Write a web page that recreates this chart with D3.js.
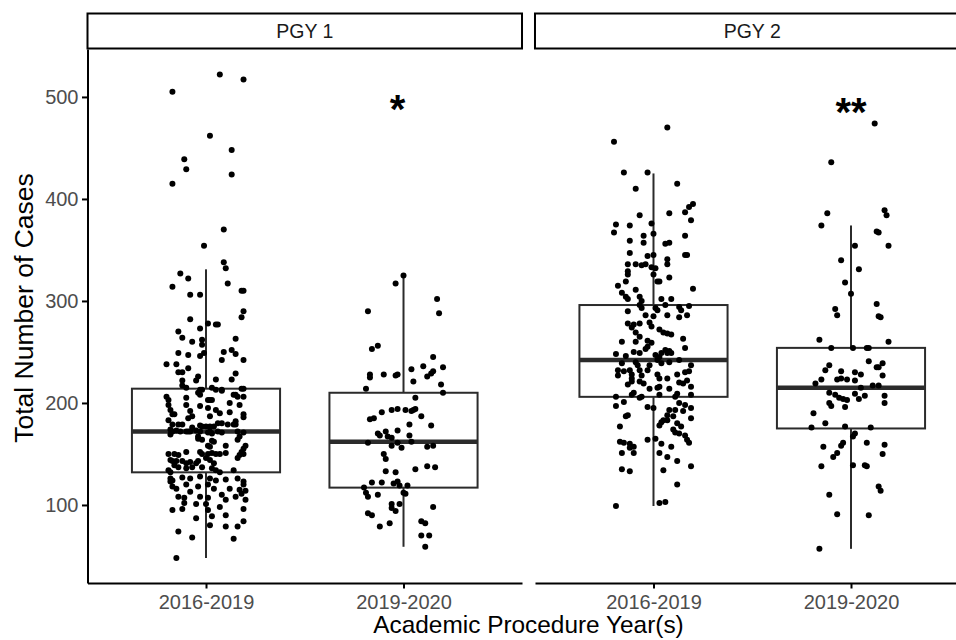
<!DOCTYPE html>
<html>
<head>
<meta charset="utf-8">
<script src="https://cdn.jsdelivr.net/npm/d3@7"></script>
<style>
  body { margin: 0; background: #fff; }
  svg { display: block; }
  text { font-family: "Liberation Sans", Arial, Helvetica, sans-serif; }
</style>
</head>
<body>
<div id="chart"></div>
<script>
const facets = ['PGY 1', 'PGY 2'];
const years = ['2016-2019', '2019-2020'];
const yTicks = [100, 200, 300, 400, 500];

// each point: [total cases, horizontal jitter in category units]
const pgy1Early = [
  [522,0.07],[517,0.19],[505,-0.17],[462,0.02],[448,0.13],[439,-0.11],[429,-0.10],[424,0.13],[415,-0.17],[370,0.09],
  [354,-0.01],[338,0.09],[332,0.10],[327,-0.13],[322,-0.09],[314,-0.17],[317,0.11],[306,-0.08],[306,-0.03],[310,0.18],
  [310,0.19],[290,0.19],[284,0.18],[282,-0.08],
  [278,0.01],[277,0.05],[277,0.06],[270,-0.14],[273,-0.03],[264,-0.12],[260,-0.07],[262,-0.02],[263,0.15],[257,-0.02],
  [249,-0.14],[247,-0.09],[249,-0.01],[246,-0.03],[250,0.09],[252,0.13],[248,0.15],[242,0.08],[242,0.19],[238,-0.20],
  [238,-0.15],[234,-0.09],[230,-0.14],[230,-0.12],[226,-0.04],[229,0.15],[222,-0.12],[222,-0.05],[223,0.05],[223,0.13],
  [217,-0.12],[215,-0.10],[213,-0.03],[213,-0.02],[215,0.03],[213,0.05],[213,0.08],[214,0.18],[214,0.19],
  [206,-0.20],[203,-0.19],[198,-0.19],[193,-0.18],[205,-0.10],[210,-0.04],[208,-0.03],[203,0.01],[203,0.02],[203,0.03],
  [212,0.08],[208,0.14],[208,0.15],[206,0.16],[206,0.19],[200,0.12],[198,0.17],[198,-0.10],[197,-0.03],[195,0.01],
  [193,0.05],[192,-0.08],[189,-0.17],[189,-0.16],[187,-0.07],[187,0.02],[190,0.07],[191,0.12],[189,0.19],[186,0.19],
  [185,-0.09],[183,-0.19],[182,0.15],[179,-0.17],[179,-0.14],[179,-0.12],[176,-0.07],[178,-0.03],[177,-0.02],[177,0.00],
  [177,0.02],[177,0.04],[180,0.06],[180,0.08],[179,0.11],[179,0.14],[179,0.15],[174,-0.18],[172,-0.17],[173,-0.15],
  [172,-0.13],[172,-0.10],[172,-0.09],[172,-0.08],[173,-0.05],[172,-0.03],[171,0.01],[172,0.02],[170,0.03],[172,0.06],
  [171,0.08],[172,0.16],[171,0.19],[169,-0.18],[167,0.17],[164,0.16],[167,-0.04],[165,-0.04],[164,-0.02],[163,0.03],
  [162,0.04],[158,0.10],[158,0.20],[155,0.19],[158,0.01],[157,0.02],[150,-0.19],[150,-0.16],[149,-0.14],[152,-0.10],
  [152,-0.03],[150,-0.02],[150,0.01],[151,0.03],[150,0.05],[150,0.07],[151,0.10],[149,0.17],[152,0.18],[150,0.19],
  [144,-0.18],[143,-0.17],[143,-0.15],[143,-0.12],[141,-0.10],[142,-0.08],[141,-0.05],[143,-0.04],[146,0.00],[144,0.02],
  [141,0.04],[146,0.16],[139,-0.16],[137,-0.14],[136,-0.10],[137,-0.07],[137,-0.02],[136,0.03],[134,0.05],[132,0.07],
  [134,-0.19],[132,-0.18],[134,0.14],
  [126,-0.18],[124,-0.17],[123,-0.18],[127,-0.12],[126,-0.08],[128,-0.03],[126,0.02],[124,0.05],[125,0.10],[126,0.16],
  [123,0.19],[120,0.19],[118,-0.17],[116,-0.15],[120,-0.10],[118,-0.04],[120,0.01],[116,0.04],[116,0.12],[115,0.17],
  [114,0.20],[111,0.18],[108,-0.14],[107,-0.11],[113,-0.08],[108,-0.03],[107,0.01],[110,0.08],[105,0.10],[108,0.15],
  [105,0.20],[102,-0.11],[101,-0.05],[101,0.00],[95,0.01],[98,0.07],[95,-0.17],[96,-0.12],[96,0.19],[87,-0.05],
  [89,0.03],[90,0.10],[84,0.19],[79,0.16],[80,0.02],[79,0.10],[74,-0.14],[68,-0.07],[67,0.14],[48,-0.15]
];

const pgy1Late = [
  [325,0.00],[317,-0.04],[290,-0.18],[302,0.17],[288,0.18],
  [253,-0.16],[256,-0.13],[228,-0.17],[225,-0.17],[228,-0.10],[227,-0.04],[228,-0.03],[233,0.04],[221,0.05],[236,0.10],
  [226,0.12],[229,0.14],[231,0.15],[245,0.15],[235,0.20],[214,-0.19],[218,0.19],[210,0.20],[205,0.06],[191,-0.11],
  [184,-0.17],[185,-0.15],[193,-0.06],[194,-0.03],[193,0.01],[192,0.04],[193,0.05],[194,0.06],[187,0.09],[179,0.03],
  [178,0.14],[170,-0.13],[168,-0.12],[172,-0.09],[167,-0.08],[166,-0.06],[173,-0.03],[168,0.03],[161,-0.18],[158,-0.06],
  [161,-0.03],[156,-0.01],[162,0.04],[157,0.12],[158,0.15],[150,-0.10],[145,-0.09],[135,0.06],[138,0.12],[137,0.16],
  [133,-0.09],[132,-0.04],[122,-0.16],[122,-0.11],[121,-0.05],[123,-0.03],[119,-0.02],[119,0.02],[117,-0.20],[112,-0.19],
  [108,-0.18],[110,-0.13],[112,0.00],[111,0.01],[101,-0.06],[101,-0.02],[97,-0.06],[94,-0.04],[98,0.15],[92,-0.18],
  [90,-0.16],[79,-0.12],[82,-0.07],[84,0.09],[82,0.11],[70,0.09],[70,0.13],[59,0.11]
];

const pgy2Early = [
  [470,0.07],[456,-0.20],[426,-0.15],[426,-0.03],[415,0.12],[410,-0.09],[395,0.20],[392,0.18],[387,0.16],[379,0.19],
  [384,-0.07],[386,0.08],[375,-0.19],[367,-0.20],[374,-0.12],[376,-0.01],[364,-0.05],[357,-0.05],[366,0.00],[359,-0.12],
  [364,0.16],[356,0.06],[357,0.08],[347,-0.12],[345,0.16],[345,0.17],[336,-0.13],[336,-0.09],[335,-0.06],[336,-0.04],
  [344,-0.03],[345,0.00],[332,0.01],[333,-0.01],[341,0.07],[336,0.07],[329,-0.13],[326,-0.13],[326,0.00],[319,0.02],
  [319,0.03],[319,-0.14],[323,0.08],[315,-0.18],[308,-0.16],[311,-0.09],[304,-0.14],[302,-0.13],[312,0.20],[304,-0.07],
  [300,-0.06],[302,0.04],[302,0.09],[290,-0.13],[296,-0.07],[293,-0.06],[293,0.01],[291,0.02],[296,0.06],[294,0.13],
  [291,0.14],[295,0.18],[286,-0.04],[285,0.00],[286,0.07],[284,0.13],[286,0.17],
  [278,-0.13],[274,-0.11],[277,-0.10],[278,-0.07],[279,-0.02],[275,-0.01],[272,0.03],[269,0.05],[268,0.07],[267,0.09],
  [269,-0.09],[265,-0.07],[260,-0.09],[260,-0.16],[261,-0.03],[259,-0.01],[263,0.15],[253,-0.04],[255,-0.03],[249,-0.07],
  [252,0.06],[249,0.04],[249,0.07],[245,0.03],[254,0.16],[248,-0.19],[246,-0.14],[250,-0.10],[247,0.01],[251,0.08],
  [249,0.09],[242,0.13],[239,-0.16],[232,-0.18],[240,-0.09],[237,-0.08],[237,-0.02],[242,0.02],[239,0.04],[240,0.08],
  [237,0.19],[232,-0.12],[228,-0.11],[224,-0.11],[231,-0.15],[227,-0.18],[232,-0.07],[227,-0.06],[232,-0.03],[228,0.02],
  [224,0.03],[224,0.07],[228,0.12],[230,0.16],[231,0.18],[218,-0.13],[221,-0.11],[221,-0.07],[219,-0.05],[214,-0.02],
  [215,0.02],[216,0.03],[214,0.08],[220,0.13],[219,0.15],[222,0.17],[216,0.19],[209,0.12],[206,0.11],[208,0.19],
  [210,-0.10],[208,-0.11],[206,-0.06],[205,-0.07],[208,0.03],[197,-0.19],[201,-0.15],[206,-0.19],[196,-0.03],[195,0.00],
  [200,0.13],[198,0.16],[192,0.15],[195,0.19],[188,-0.13],[187,-0.14],[193,0.08],[193,0.11],[187,0.10],[188,0.07],
  [183,0.07],[185,0.19],[181,0.04],[183,0.05],[178,0.03],[180,0.12],[177,0.14],[174,0.10],[170,0.13],[171,0.11],
  [177,-0.17],[168,0.16],[164,0.17],[161,0.18],[162,-0.17],[161,-0.15],[160,-0.12],[157,-0.10],[156,-0.12],[151,-0.16],
  [164,-0.03],[165,0.01],[160,0.04],[157,0.09],[151,0.03],[147,0.07],[151,-0.10],[143,0.12],[138,0.19],[135,-0.16],
  [133,-0.12],[134,0.05],[120,0.12],[99,-0.19],[102,0.03],[103,0.06]
];

const pgy2Late = [
  [474,0.12],[436,-0.10],[386,-0.12],[374,-0.15],[389,0.17],[384,0.18],[368,0.13],[367,0.14],[354,0.02],[354,0.19],
  [340,-0.05],[331,0.04],[318,-0.03],[307,0.00],[297,0.13],[292,-0.08],[286,-0.07],[285,0.14],[284,0.15],
  [262,-0.16],[260,0.19],[254,-0.10],[254,0.01],[254,0.08],[254,0.09],[241,0.09],[237,-0.11],[232,-0.13],[239,0.16],
  [235,0.14],[235,0.13],[231,-0.05],[230,0.02],[228,0.05],[223,-0.15],[223,-0.07],[224,-0.05],[223,-0.02],[222,0.02],
  [227,0.16],[219,-0.18],[215,0.05],[217,0.11],[217,0.14],[210,-0.11],[208,-0.08],[205,-0.06],[204,-0.04],[203,-0.02],
  [209,0.02],[204,0.04],[207,0.07],[207,0.17],[200,0.17],[200,-0.11],[197,-0.10],[196,-0.03],[190,-0.19],[180,-0.13],
  [176,-0.20],[177,-0.03],[176,0.10],[170,0.02],[167,0.01],[161,-0.04],[158,-0.05],[157,-0.14],[161,0.08],[159,0.17],
  [150,0.16],[151,-0.07],[147,-0.09],[138,-0.15],[139,0.01],[139,0.07],[138,0.08],[118,0.14],[114,0.15],[110,-0.11],
  [91,-0.07],[90,0.09],[57,-0.16]
];

// box statistics: [facet, year, lower whisker, Q1, median, Q3, upper whisker]
const boxStats = [
  ['PGY 1', '2016-2019', 48, 132, 172, 214, 331],
  ['PGY 1', '2019-2020', 59, 117, 162, 210, 325],
  ['PGY 2', '2016-2019', 99, 206, 242, 296, 425],
  ['PGY 2', '2019-2020', 57, 175, 215, 254, 374]
];

// [facet, year, label, value, nudge in category units]
const signifLabels = [
  ['PGY 1', '2019-2020', '*', 497, -0.03],
  ['PGY 2', '2019-2020', '**', 494, 0]
];

const pointSets = [
  ['PGY 1', '2016-2019', pgy1Early],
  ['PGY 1', '2019-2020', pgy1Late],
  ['PGY 2', '2016-2019', pgy2Early],
  ['PGY 2', '2019-2020', pgy2Late]
];

const width = 956;
const height = 640;
const panelTop = 49;
const panelBottom = 583;
const stripTop = 13.5;
const lineColor = 'black';
const boxColor = '#2b2b2b';
const tickTextColor = '#4d4d4d';

const svg = d3.select('#chart')
  .append('svg')
  .attr('width', width)
  .attr('height', height);

svg.append('rect')
  .attr('width', width)
  .attr('height', height)
  .attr('fill', 'white');

const facetScale = d3.scaleBand()
  .domain(facets)
  .range([87.5, 969.5])
  .paddingInner(0.029)
  .paddingOuter(0);

const yScale = d3.scaleLinear()
  .domain([23.5, 547])
  .range([panelBottom, panelTop]);

const xScales = {};
facets.forEach(f => {
  const x0 = facetScale(f);
  xScales[f] = d3.scalePoint()
    .domain(years)
    .range([x0, x0 + facetScale.bandwidth()])
    .padding(0.6);
});

// strips
facets.forEach(f => {
  const g = svg.append('g').attr('class', 'strip');
  g.append('rect')
    .attr('x', facetScale(f))
    .attr('y', stripTop)
    .attr('width', facetScale.bandwidth())
    .attr('height', panelTop - stripTop - 0.5)
    .attr('fill', 'white')
    .attr('stroke', lineColor)
    .attr('stroke-width', 2);
  g.append('text')
    .attr('x', facetScale(f) + facetScale.bandwidth() / 2)
    .attr('y', 38)
    .attr('text-anchor', 'middle')
    .style('font-size', '19.5px')
    .style('fill', '#1a1a1a')
    .text(f);
});

// boxes
boxStats.forEach(([f, yr, lo, q1, med, q3, hi]) => {
  const x = xScales[f];
  const half = x.step() * 0.375;
  const cx = x(yr);
  const g = svg.append('g').attr('class', 'box');
  g.append('line')
    .attr('x1', cx).attr('x2', cx)
    .attr('y1', yScale(hi)).attr('y2', yScale(q3))
    .attr('stroke', boxColor).attr('stroke-width', 2);
  g.append('line')
    .attr('x1', cx).attr('x2', cx)
    .attr('y1', yScale(q1)).attr('y2', yScale(lo))
    .attr('stroke', boxColor).attr('stroke-width', 2);
  g.append('rect')
    .attr('x', cx - half)
    .attr('y', yScale(q3))
    .attr('width', half * 2)
    .attr('height', yScale(q1) - yScale(q3))
    .attr('fill', 'white')
    .attr('stroke', boxColor)
    .attr('stroke-width', 2);
  g.append('line')
    .attr('x1', cx - half).attr('x2', cx + half)
    .attr('y1', yScale(med)).attr('y2', yScale(med))
    .attr('stroke', boxColor).attr('stroke-width', 4.5);
});

// jittered points
pointSets.forEach(([f, yr, pts]) => {
  const x = xScales[f];
  svg.append('g')
    .attr('class', 'points')
    .selectAll('circle')
    .data(pts)
    .join('circle')
    .attr('cx', d => x(yr) + d[1] * x.step())
    .attr('cy', d => yScale(d[0]))
    .attr('r', 3)
    .attr('fill', 'black');
});

// significance marks
signifLabels.forEach(([f, yr, label, v, nudge]) => {
  const x = xScales[f];
  svg.append('text')
    .attr('x', x(yr) + nudge * x.step())
    .attr('y', yScale(v))
    .attr('dy', '0.58em')
    .attr('text-anchor', 'middle')
    .style('font-size', '40px')
    .style('font-weight', 'bold')
    .style('fill', 'black')
    .text(label);
});

// y axis
const yAxis = d3.axisLeft(yScale)
  .tickValues(yTicks)
  .tickSize(5.5)
  .tickSizeOuter(0)
  .tickPadding(3.5);

svg.append('g')
  .attr('class', 'y-axis')
  .attr('transform', `translate(${facetScale(facets[0])}, 0)`)
  .call(yAxis);

// x axes
facets.forEach(f => {
  const xAxis = d3.axisBottom(xScales[f])
    .tickSize(5.5)
    .tickSizeOuter(0)
    .tickPadding(6.5);
  svg.append('g')
    .attr('class', 'x-axis')
    .attr('transform', `translate(0, ${panelBottom})`)
    .call(xAxis);
});

svg.selectAll('.x-axis path, .y-axis path, .x-axis line, .y-axis line')
  .attr('stroke', lineColor)
  .attr('stroke-width', 2);
svg.selectAll('.x-axis text, .y-axis text')
  .attr('fill', tickTextColor)
  .style('font-size', '20px')
  .style('font-family', '"Liberation Sans", Arial, Helvetica, sans-serif');

// axis titles
svg.append('text')
  .attr('x', 528.5)
  .attr('y', 633)
  .attr('text-anchor', 'middle')
  .style('font-size', '24.4px')
  .style('fill', 'black')
  .text('Academic Procedure Year(s)');

svg.append('text')
  .attr('transform', `translate(33, ${(panelTop + panelBottom) / 2 - 8}) rotate(-90)`)
  .attr('text-anchor', 'middle')
  .style('font-size', '26.5px')
  .style('fill', 'black')
  .text('Total Number of Cases');
</script>
</body>
</html>
